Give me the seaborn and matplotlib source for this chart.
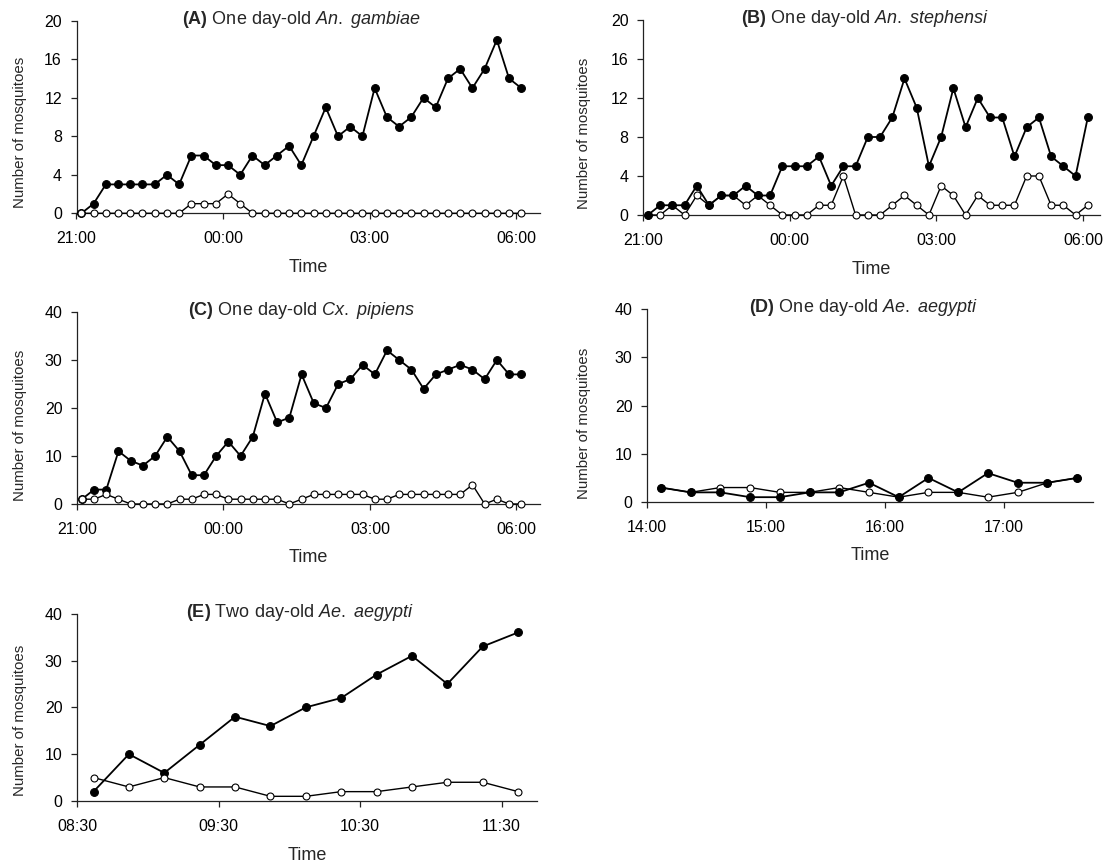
import matplotlib
matplotlib.use("Agg")
import matplotlib.pyplot as plt
from matplotlib import font_manager
import pandas as pd
import seaborn as sns

# ---------------- data ----------------
a_fed = [0, 1, 3, 3, 3, 3, 3, 4, 3, 6, 6, 5, 5, 4, 6, 5, 6, 7, 5, 8, 11, 8, 9, 8,
         13, 10, 9, 10, 12, 11, 14, 15, 13, 15, 18, 14, 13]
a_unfed = [0, 0, 0, 0, 0, 0, 0, 0, 0, 1, 1, 1, 2, 1, 0, 0, 0, 0, 0, 0, 0, 0, 0, 0,
           0, 0, 0, 0, 0, 0, 0, 0, 0, 0, 0, 0, 0]
b_fed = [0, 1, 1, 1, 3, 1, 2, 2, 3, 2, 2, 5, 5, 5, 6, 3, 5, 5, 8, 8, 10, 14, 11, 5,
         8, 13, 9, 12, 10, 10, 6, 9, 10, 6, 5, 4, 10]
b_unfed = [0, 0, 1, 0, 2, 1, 2, 2, 1, 2, 1, 0, 0, 0, 1, 1, 4, 0, 0, 0, 1, 2, 1, 0,
           3, 2, 0, 2, 1, 1, 1, 4, 4, 1, 1, 0, 1]
c_fed = [1, 3, 3, 11, 9, 8, 10, 14, 11, 6, 6, 10, 13, 10, 14, 23, 17, 18, 27, 21,
         20, 25, 26, 29, 27, 32, 30, 28, 24, 27, 28, 29, 28, 26, 30, 27, 27]
c_unfed = [1, 1, 2, 1, 0, 0, 0, 0, 1, 1, 2, 2, 1, 1, 1, 1, 1, 0, 1, 2, 2, 2, 2, 2,
           1, 1, 2, 2, 2, 2, 2, 2, 4, 0, 1, 0, 0]
d_fed = [3, 2, 2, 1, 1, 2, 2, 4, 1, 5, 2, 6, 4, 4, 5]
d_unfed = [3, 2, 3, 3, 2, 2, 3, 2, 1, 2, 2, 1, 2, 4, 5]
e_fed = [2, 10, 6, 12, 18, 16, 20, 22, 27, 31, 25, 33, 36]
e_unfed = [5, 3, 5, 3, 3, 1, 1, 2, 2, 3, 4, 4, 2]

night_start = "2000-01-01 21:06"
d_start = "2000-01-01 14:07"
e_start = "2000-01-01 08:37"
interval = "15min"

night_ticks = ["21:00", "00:00", "03:00", "06:00"]
d_ticks = ["14:00", "15:00", "16:00", "17:00"]
e_ticks = ["08:30", "09:30", "10:30", "11:30"]

night_yticks = [0, 4, 8, 12, 16, 20]
big_yticks = [0, 10, 20, 30, 40]

titles = [
    ("(A)", "One day-old", r"An.\ gambiae"),
    ("(B)", "One day-old", r"An.\ stephensi"),
    ("(C)", "One day-old", r"Cx.\ pipiens"),
    ("(D)", "One day-old", r"Ae.\ aegypti"),
    ("(E)", "Two day-old", r"Ae.\ aegypti"),
]
ylabel = "Number of mosquitoes"
xlabel = "Time"

# ---------------- style ----------------
sns.set_style("ticks")
names = {f.name for f in font_manager.fontManager.ttflist}
base = "Liberation Sans" if "Liberation Sans" in names else "DejaVu Sans"
narrow = "Liberation Sans Narrow" if "Liberation Sans Narrow" in names else None
plt.rcParams["font.family"] = [base, "DejaVu Sans"]
plt.rcParams["mathtext.fontset"] = "custom"
plt.rcParams["mathtext.rm"] = base
plt.rcParams["mathtext.it"] = base + ":italic"
plt.rcParams["mathtext.bf"] = base + ":bold"

W, H = 1114, 863
fig = plt.figure(figsize=(W / 100, H / 100), dpi=100)
fig.patch.set_facecolor("white")


def rect(l, r, t, b):
    return [l / W, 1 - b / H, (r - l) / W, (b - t) / H]


def tick_times(labels, day="2000-01-01"):
    out = []
    cur = pd.Timestamp(day)
    prev = None
    for lab in labels:
        t = pd.Timestamp(f"{cur.date()} {lab}")
        if prev is not None and t < prev:
            cur = cur + pd.Timedelta(days=1)
            t = pd.Timestamp(f"{cur.date()} {lab}")
        out.append(t)
        prev = t
    return out


panels = [
    # fed, unfed, start, ticks, yticks, rect, xend (min past last tick), ylabel x px, ylabel y frac, unfed on top
    (a_fed, a_unfed, night_start, night_ticks, night_yticks, rect(76.5, 540, 20.7, 213.3), 29, 20, 0.42, True),
    (b_fed, b_unfed, night_start, night_ticks, night_yticks, rect(643, 1100, 20, 215), 21, 584, 0.42, False),
    (c_fed, c_unfed, night_start, night_ticks, big_yticks, rect(77, 540, 312, 504), 29, 20, 0.41, True),
    (d_fed, d_unfed, d_start, d_ticks, big_yticks, rect(647, 1093, 309.3, 502), 45, 584, 0.41, False),
    (e_fed, e_unfed, e_start, e_ticks, big_yticks, rect(77, 537, 613.7, 801), 15, 20, 0.43, True),
]

for (fed, unfed, start, tlabels, yticks, rc, xend, ylx, yly, unfed_top), (tag, age, sp) in zip(panels, titles):
    ax = fig.add_axes(rc)
    times = pd.date_range(start, periods=len(fed), freq=interval)
    ticks = tick_times(tlabels)
    df = pd.DataFrame({"time": times, "fed": fed, "unfed": unfed})

    z_f, z_u = (3, 4) if unfed_top else (4, 3)
    sns.lineplot(data=df, x="time", y="fed", ax=ax, color="black", linewidth=1.3,
                 marker="o", markersize=5.6, markerfacecolor="black",
                 markeredgecolor="black", markeredgewidth=0.8, clip_on=False, zorder=z_f)
    sns.lineplot(data=df, x="time", y="unfed", ax=ax, color="black", linewidth=1.0,
                 marker="o", markersize=5.0, markerfacecolor="white",
                 markeredgecolor="black", markeredgewidth=0.8, clip_on=False, zorder=z_u)

    ax.set_xlim(ticks[0], ticks[-1] + pd.Timedelta(minutes=xend))
    ax.set_ylim(yticks[0], yticks[-1])
    ax.set_xticks(ticks)
    ax.set_xticklabels(tlabels)
    ax.set_yticks(yticks)
    ax.set_yticklabels([str(v) for v in yticks])
    sns.despine(ax=ax)
    for s in ("left", "bottom"):
        ax.spines[s].set_linewidth(0.9)
        ax.spines[s].set_color("#222222")
    ax.tick_params(axis="both", labelsize=11.5, colors="#222222", width=0.9,
                   length=4.5, labelcolor="black")
    ax.tick_params(axis="x", pad=8.5)
    ax.tick_params(axis="y", pad=6)

    ax.set_xlabel(xlabel, fontsize=13, va="center")
    ax.xaxis.set_label_coords(0.5, -54 / (rc[3] * H))
    lab_kw = {"fontsize": 13, "family": [narrow, "DejaVu Sans"]} if narrow else {"fontsize": 10.8}
    ax.set_ylabel(ylabel, va="center", **lab_kw)
    left_px = rc[0] * W
    ax.yaxis.set_label_coords((ylx - left_px) / (rc[2] * W), yly)

    title = r"$\mathbf{" + tag + r"}$ " + age + r" $\mathit{" + sp + r"}$"
    ax.annotate(title, xy=(0.485, 1.0), xycoords="axes fraction",
                xytext=(0, 1), textcoords="offset points",
                ha="center", va="center", fontsize=13)
    ax.set_facecolor("white")

fig.savefig("out.png", dpi=100, facecolor="white")
